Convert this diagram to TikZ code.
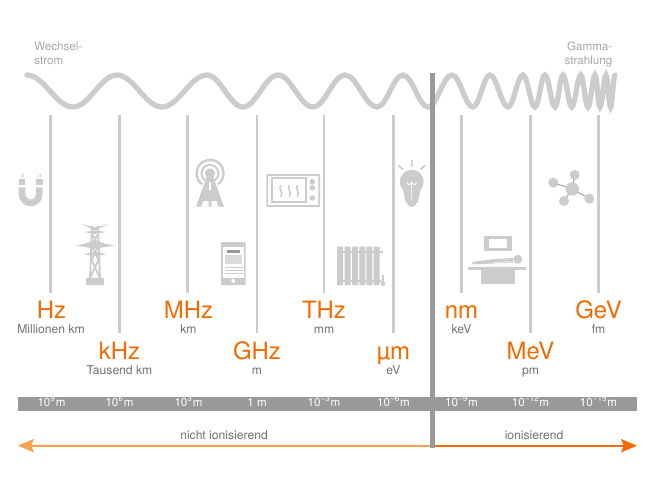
\documentclass[tikz,border=0pt]{standalone}
\usepackage{fontspec}
\setmainfont{TeX Gyre Heros}
\definecolor{linegray}{HTML}{CCCCCC}
\definecolor{bargray}{HTML}{999999}
\definecolor{textgray}{HTML}{707070}
\definecolor{softgray}{HTML}{A6A6A6}
\definecolor{deeporange}{HTML}{F26A00}
\definecolor{softorange}{HTML}{F9A050}
\usetikzlibrary{arrows.meta}
\begin{document}
\begin{tikzpicture}[scale=0.2]
    \tikzstyle{every node}+=[inner sep=0pt]
    \tikzstyle{wave}=[linegray,line width=3pt,line cap=round]
    \tikzstyle{rule}=[linegray,line width=1.2pt]
    \tikzstyle{thinrule}=[linegray,line width=1.15pt]
    \tikzstyle{unit}=[anchor=base,deeporange,font=\fontsize{13.6}{15}\selectfont]
    \tikzstyle{dist}=[anchor=base,textgray,font=\fontsize{6.9}{8}\selectfont]
    \tikzstyle{scaletext}=[anchor=base,white,font=\fontsize{6.6}{8}\selectfont]
    \tikzstyle{side}=[softgray,font=\fontsize{6.6}{8}\selectfont]
    \tikzstyle{icon}=[linegray,line width=1.05pt]
    \tikzstyle{pointer}=[line width=1.1pt,-{Stealth[length=9pt,width=7.5pt,inset=1.5pt]}]
    \useasboundingbox (0,0) rectangle (65,-48.8);
    \draw [wave] (2.7,-7.5) foreach \x/\y/\c in {7.3/-10.7/1.7,11.7/-7.5/1.65,16.2/-10.7/1.65,20.7/-7.5/1.65,24.3/-10.7/1.3,27.8/-7.5/1.3,31.3/-10.7/1.3,34.5/-7.5/1.2,37.7/-10.7/1.2,40.3/-7.5/1,42.8/-10.7/0.9,45.2/-7.5/0.9,47.3/-10.7/0.8,49/-7.5/0.65,50.8/-10.7/0.65,52.3/-7.5/0.55,53.5/-10.7/0.45,54.5/-7.5/0.4,55.5/-10.7/0.37,56.3/-7.5/0.3,57.17/-10.7/0.32,58.07/-7.5/0.32,58.8/-10.7/0.27,59.5/-7.5/0.26,60/-10.7/0.2,60.6/-7.5/0.22,61.05/-10.7/0.17,61.5/-7.5/0.17} { .. controls +(\c,0) and +(-\c,0) .. (\x,\y) };
    \fill [bargray] (1.8,-39.67) rectangle (63.7,-41.07);
    \coordinate (div1) at (43.27,-7.3);
    \coordinate (div2) at (43.27,-44.75);
    \coordinate (hzt) at (5.05,-11.5);
    \coordinate (hzb) at (5.05,-29.3);
    \draw [rule] (hzt) -- (hzb);
    \coordinate (khzt) at (11.95,-11.5);
    \coordinate (khzb) at (11.95,-33.3);
    \draw [thinrule] (khzt) -- (khzb);
    \coordinate (mhzt) at (18.75,-11.5);
    \coordinate (mhzb) at (18.75,-29.3);
    \draw [rule] (mhzt) -- (mhzb);
    \coordinate (ghzt) at (25.7,-11.5);
    \coordinate (ghzb) at (25.7,-33.3);
    \draw [thinrule] (ghzt) -- (ghzb);
    \coordinate (thzt) at (32.4,-11.5);
    \coordinate (thzb) at (32.4,-29.3);
    \draw [rule] (thzt) -- (thzb);
    \coordinate (umt) at (39.35,-11.5);
    \coordinate (umb) at (39.35,-33.3);
    \draw [thinrule] (umt) -- (umb);
    \coordinate (nmt) at (46.15,-11.5);
    \coordinate (nmb) at (46.15,-29.3);
    \draw [rule] (nmt) -- (nmb);
    \coordinate (mevt) at (53.05,-11.5);
    \coordinate (mevb) at (53.05,-33.3);
    \draw [thinrule] (mevt) -- (mevb);
    \coordinate (gevt) at (59.85,-11.5);
    \coordinate (gevb) at (59.85,-29.3);
    \draw [rule] (gevt) -- (gevb);
    \node [unit] (hz) at (5.15,-31.83) {Hz};
    \node [dist] (hzd) at (5.1,-33.33) {Millionen km};
    \node [unit] (khz) at (11.95,-35.9) {kHz};
    \node [dist] (khzd) at (11.95,-37.43) {Tausend km};
    \node [unit] (mhz) at (18.85,-31.83) {MHz};
    \node [dist] (mhzd) at (18.85,-33.33) {km};
    \node [unit] (ghz) at (25.7,-35.9) {GHz};
    \node [dist] (ghzd) at (25.7,-37.43) {m};
    \node [unit] (thz) at (32.4,-31.83) {THz};
    \node [dist] (thzd) at (32.4,-33.33) {mm};
    \node [unit] (um) at (39.35,-35.9) {µm};
    \node [dist] (umd) at (39.35,-37.43) {eV};
    \node [unit] (nm) at (46.15,-31.83) {nm};
    \node [dist] (nmd) at (46.15,-33.33) {keV};
    \node [unit] (mev) at (53.05,-35.9) {MeV};
    \node [dist] (mevd) at (53.05,-37.43) {pm};
    \node [unit] (gev) at (59.85,-31.83) {GeV};
    \node [dist] (gevd) at (59.85,-33.33) {fm};
    \node [scaletext] (l1) at (5.15,-40.68) {10\textsuperscript{9}m};
    \node [scaletext] (l2) at (11.95,-40.68) {10\textsuperscript{6}m};
    \node [scaletext] (l3) at (18.85,-40.68) {10\textsuperscript{3}m};
    \node [scaletext] (l4) at (25.7,-40.68) {1 m};
    \node [scaletext] (l5) at (32.4,-40.68) {10\textsuperscript{−3}m};
    \node [scaletext] (l6) at (39.35,-40.68) {10\textsuperscript{−6}m};
    \node [scaletext] (l7) at (46.15,-40.68) {10\textsuperscript{−9}m};
    \node [scaletext] (l8) at (53.05,-40.68) {10\textsuperscript{−12}m};
    \node [scaletext] (l9) at (59.85,-40.68) {10\textsuperscript{−15}m};
    \node [dist] (nion) at (22.4,-43.93) {nicht ionisierend};
    \node [dist] (ion) at (53.4,-43.93) {ionisierend};
    \node [side,anchor=base west] (ws1) at (3.4,-5.07) {Wechsel-};
    \node [side,anchor=base west] (ws2) at (3.4,-6.43) {strom};
    \node [side,anchor=base east] (gs1) at (61.26,-5.07) {Gamma-};
    \node [side,anchor=base east] (gs2) at (61.26,-6.43) {strahlung};
    \coordinate (al) at (1.8,-44.57);
    \coordinate (ar) at (63.7,-44.57);
    \draw [pointer,softorange] (div2 |- al) -- (al);
    \draw [pointer,deeporange] (div2 |- ar) -- (ar);
    \draw [bargray,line width=3.1pt] (div1) -- (div2);
    \fill [linegray] (1.87,-18.73) -- (1.87,-19.43) arc (180:360:1.2) -- (4.27,-18.73) -- (3.6,-18.73) -- (3.6,-19.43) arc (360:180:0.53) -- (2.53,-18.73) -- cycle;
    \fill [linegray] (1.87,-17.93) rectangle (2.53,-18.53);
    \fill [linegray] (3.6,-17.93) rectangle (4.27,-18.53);
    \draw [linegray,line width=0.3pt] (2.1,-17.8) -- (2.2,-17.3) (2.3,-17.8) -- (2.4,-17.3) (3.8,-17.8) -- (3.9,-17.3) (4,-17.8) -- (4.1,-17.3);
    \fill [linegray] (8.6,-27.83) rectangle (10.4,-28.5);
    \draw [icon] (9,-27.8) -- (9.2,-22.6) (10,-27.8) -- (9.8,-22.6) (9,-27.8) -- (9.85,-26) -- (9.15,-24.5) -- (9.85,-23.4) (10,-27.8) -- (9.15,-26) -- (9.85,-24.5) -- (9.15,-23.4);
    \fill [linegray] (8.17,-22.4) -- (9.5,-22.75) -- (10.83,-22.4) -- (9.5,-23.05) -- cycle;
    \fill [linegray] (8.4,-23.2) -- (9.5,-23.05) -- (10.6,-23.2) -- (9.5,-23.4) -- cycle;
    \fill [linegray] (7.6,-24.57) -- (9.5,-24.1) -- (11.43,-24.57) -- (9.5,-24.85) -- cycle;
    \fill [linegray] (8.4,-25.43) -- (9.5,-25.15) -- (10.6,-25.43) -- (9.5,-25.6) -- cycle;
    \draw [linegray,line width=1.3pt] (20.23,-18.44) arc (235:-55:1.35);
    \draw [linegray,line width=1.1pt] (20.51,-18.03) arc (235:-55:0.85);
    \fill [linegray] (21,-17.33) circle (0.5);
    \fill [linegray] (20.7,-17.6) -- (21.3,-17.6) -- (22.4,-20.67) -- (19.6,-20.67) -- cycle;
    \fill [white] (20.88,-18.2) rectangle (21.12,-19);
    \fill [white] (20.15,-20.67) -- (20.85,-20.67) -- (20.85,-20.1) -- (20.35,-20.1) -- cycle;
    \fill [white] (21.85,-20.67) -- (21.15,-20.67) -- (21.15,-20.1) -- (21.65,-20.1) -- cycle;
    \fill [linegray,rounded corners=0.2] (22.1,-24.2) rectangle (24.57,-28.5);
    \fill [white] (22.3,-24.65) rectangle (24.37,-27.8);
    \fill [bargray] (22.67,-25) rectangle (24,-25.3);
    \fill [linegray!70] (22.5,-25.5) rectangle (24.2,-26.43);
    \draw [linegray,line width=0.4pt] (22.45,-26.7) -- (24.25,-26.7) (22.45,-27) -- (24.25,-27) (22.45,-27.3) -- (24.25,-27.3);
    \fill [white] (23.33,-28.1) circle (0.2);
    \draw [icon,rounded corners=0.15] (26.73,-17.5) rectangle (31.93,-20.6);
    \draw [icon] (27.17,-17.83) rectangle (30.6,-20.23);
    \fill [linegray] (31.23,-18.17) circle (0.28) (31.23,-18.77) circle (0.28) (31.23,-19.8) circle (0.28);
    \draw [linegray,line width=0.9pt] (28.07,-18.5) .. controls (27.8,-18.9) and (28.4,-19.2) .. (28.07,-19.67) (28.93,-18.5) .. controls (28.66,-18.9) and (29.26,-19.2) .. (28.93,-19.67) (29.73,-18.5) .. controls (29.46,-18.9) and (30.06,-19.2) .. (29.73,-19.67);
    \foreach \x in {34,34.77,35.5,36.23,36.93,37.67} {
        \fill [linegray,rounded corners=0.27] (\x-0.3,-24.67) rectangle (\x+0.3,-28.5);
    }
    \fill [linegray] (33.67,-25.05) rectangle (38.3,-25.25);
    \fill [linegray] (33.9,-28) rectangle (38.1,-28.2);
    \fill [linegray] (38.3,-28.35) circle (0.25);
    \draw [linegray,line width=0.6pt] (38.3,-27.5) -- (38.3,-28.5);
    \fill [linegray] (41.17,-18.17) circle (1.2);
    \fill [linegray] (40.3,-19) -- (42.05,-19) -- (41.8,-20.1) -- (40.55,-20.1) -- cycle;
    \fill [linegray] (40.6,-20.1) rectangle (41.75,-20.3);
    \fill [linegray] (41.17,-20.2) circle (0.5);
    \draw [white,line width=0.5pt] (41.17,-19.9) -- (41.17,-18.2) (40.7,-18.2) .. controls (40.8,-18.6) and (41,-18.5) .. (41.17,-18.2) .. controls (41.35,-18.5) and (41.5,-18.6) .. (41.65,-18.2);
    \draw [linegray,line width=1pt] (41.17,-16) -- (41.17,-16.65) (39.85,-16.55) -- (40.3,-16.95) (42.5,-16.55) -- (42.05,-16.95);
    \fill [linegray] (48.4,-23.6) rectangle (51.2,-25.1);
    \fill [white] (48.9,-23.93) rectangle (50.73,-24.83);
    \fill [linegray] (46.8,-26.67) rectangle (52.6,-27);
    \fill [linegray] (48.13,-27) rectangle (51.53,-28.43);
    \fill [linegray] (51.77,-25.93) circle (0.45);
    \fill [linegray,rounded corners=0.12] (47.17,-26.25) -- (47.3,-26.45) -- (51.3,-26.25) -- (51.3,-25.8) -- (49.5,-25.9) -- (47.8,-26.1) -- cycle;
    \draw [white,line width=0.3pt] (49.5,-26.25) -- (51,-26.15);
    \draw [bargray,line width=0.5pt] (57.23,-18.9) -- (55.33,-18.27) (57.23,-18.9) -- (57.47,-17.5) (57.23,-18.9) -- (58.93,-19.87) (57.23,-18.9) -- (56.4,-20.1);
    \fill [linegray] (57.23,-18.9) circle (0.67);
    \fill [linegray] (55.33,-18.27) circle (0.5) (57.47,-17.5) circle (0.5) (58.93,-19.87) circle (0.5) (56.4,-20.1) circle (0.5);
\end{tikzpicture}
\end{document}
